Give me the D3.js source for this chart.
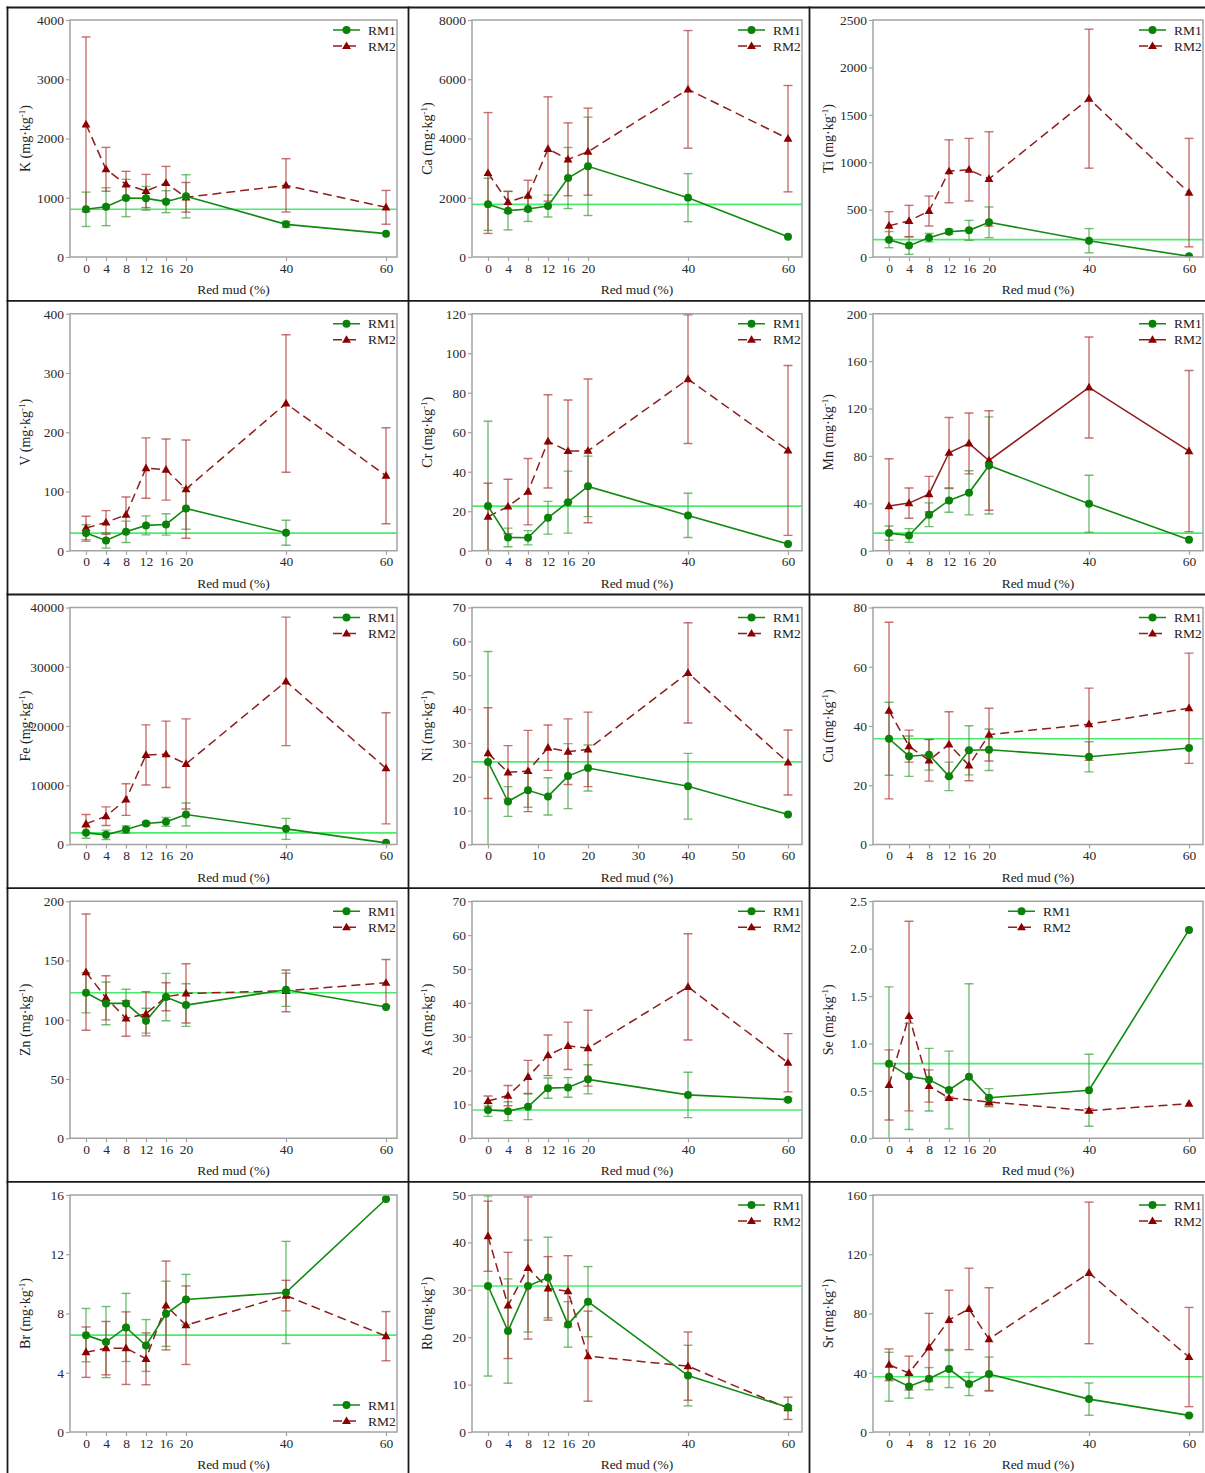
<!DOCTYPE html>
<html>
<head>
<meta charset="utf-8">
<script src="https://cdn.jsdelivr.net/npm/d3@7"></script>
<style>
  body { margin: 0; background: #fff; }
  svg { display: block; }
  text { font-family: "Liberation Serif", "Times New Roman", serif; }
</style>
</head>
<body>
<div id="chart"></div>
<script>
// red mud addition (%)
const redMud = [0, 4, 8, 12, 16, 20, 40, 60];
const redMudTicks = [0, 4, 8, 12, 16, 20, 40, 60];
const niTicks = [0, 10, 20, 30, 40, 50, 60];

const elements = ["K", "Ca", "Ti", "V", "Cr", "Mn", "Fe", "Ni", "Cu", "Zn", "As", "Se", "Br", "Rb", "Sr"];
const yMax  = [4000, 8000, 2500, 400, 120, 200, 40000, 70, 80, 200, 70, 2.5, 16, 50, 160];
const yStep = [1000, 2000, 500, 100, 20, 40, 10000, 10, 20, 50, 10, 0.5, 4, 10, 40];

// mean and sd, mg/kg
const K_RM1 = [805, 849, 996, 990, 934, 1024, 551, 394];
const K_RM1_SD = [290, 320, 315, 200, 185, 365, 50, 0];
const K_RM2 = [2239, 1480, 1226, 1114, 1249, 1007, 1209, 838];
const K_RM2_SD = [1475, 370, 220, 280, 280, 250, 450, 285];

const Ca_RM1 = [1778, 1564, 1620, 1721, 2667, 3060, 2003, 686];
const Ca_RM1_SD = [880, 650, 420, 370, 1030, 1660, 810, 0];
const Ca_RM2 = [2835, 1856, 2070, 3646, 3297, 3555, 5659, 3994];
const Ca_RM2_SD = [2040, 360, 520, 1760, 1230, 1470, 1985, 1795];

const Ti_RM1 = [183, 120, 204, 267, 281, 366, 172, 7];
const Ti_RM1_SD = [85, 92, 45, 25, 105, 162, 128, 0];
const Ti_RM2 = [330, 380, 485, 904, 921, 823, 1670, 679];
const Ti_RM2_SD = [148, 165, 158, 332, 330, 498, 733, 572];

const V_RM1 = [29.8, 17.4, 32, 42.8, 44.4, 71.4, 30.4, null];
const V_RM1_SD = [14, 13, 18, 16, 18, 35, 21, 0];
const V_RM2 = [38.3, 47.8, 60.8, 139.5, 137, 104, 248.6, 126.6];
const V_RM2_SD = [20, 20, 30, 51, 51.5, 83, 116, 81];

const Cr_RM1 = [22.6, 6.75, 6.6, 16.7, 24.6, 32.6, 17.9, 3.4];
const Cr_RM1_SD = [43, 4.7, 3.6, 8.3, 15.7, 15.3, 11.2, 0];
const Cr_RM2 = [17.2, 22.4, 29.9, 55.4, 50.5, 50.6, 86.9, 50.8];
const Cr_RM2_SD = [17, 13.8, 16.8, 23.6, 25.8, 36.4, 32.6, 43];

const Mn_RM1 = [14.9, 12.9, 30.4, 42.5, 48.9, 72, 39.7, 9.3];
const Mn_RM1_SD = [6, 5.8, 10, 10, 18.6, 41, 24, 0];
const Mn_RM2 = [37.7, 40.2, 47.8, 82.7, 90.6, 76.2, 137.8, 84.1];
const Mn_RM2_SD = [40, 12.8, 15, 29.7, 25.7, 42, 42.6, 68];

const Fe_RM1 = [1966, 1629, 2528, 3539, 3820, 5056, 2640, 281];
const Fe_RM1_SD = [900, 790, 620, 250, 750, 1940, 1770, 0];
const Fe_RM2 = [3483, 4775, 7584, 15112, 15225, 13596, 27528, 12865];
const Fe_RM2_SD = [1570, 1570, 2670, 5080, 5600, 7600, 10840, 9380];

const Ni_RM1 = [24.4, 12.7, 16.0, 14.2, 20.2, 22.6, 17.2, 8.85];
const Ni_RM1_SD = [32.6, 4.4, 5, 5.5, 9.6, 6.8, 9.7, 0];
const Ni_RM2 = [27.0, 21.3, 21.7, 28.6, 27.4, 28.1, 50.7, 24.2];
const Ni_RM2_SD = [13.4, 7.9, 12, 6.7, 9.7, 11, 14.8, 9.6];

const Cu_RM1 = [35.7, 29.8, 30.3, 23, 31.8, 32, 29.6, 32.6];
const Cu_RM1_SD = [12.3, 6.8, 5.2, 4.8, 8.3, 7, 5.1, 0];
const Cu_RM2 = [45.2, 33.2, 28.4, 33.8, 26.7, 37.1, 40.6, 46];
const Cu_RM2_SD = [29.8, 5.4, 7, 11, 5.2, 8.9, 12.2, 18.6];

const Zn_RM1 = [122.8, 113.8, 113.8, 99.2, 119.1, 112.4, 125.3, 110.7];
const Zn_RM1_SD = [17, 18, 12, 10.5, 20, 18, 14, 0];
const Zn_RM2 = [140.2, 118.5, 101.1, 105, 119.4, 122.2, 124.4, 131.2];
const Zn_RM2_SD = [49, 18.6, 15, 18.6, 11.8, 25, 17.6, 19.6];

const As_RM1 = [8.36, 8.0, 9.3, 14.8, 15.0, 17.4, 12.8, 11.4];
const As_RM1_SD = [1.9, 2.8, 3.8, 3, 2.9, 4.3, 6.7, 0.5];
const As_RM2 = [11.0, 12.6, 18.1, 24.5, 27.3, 26.6, 44.7, 22.3];
const As_RM2_SD = [1.5, 3, 4.9, 6, 7, 11.2, 15.7, 8.6];

const Se_RM1 = [0.787, 0.653, 0.618, 0.509, 0.65, 0.428, 0.506, 2.198];
const Se_RM1_SD = [0.81, 0.56, 0.33, 0.41, 0.98, 0.095, 0.38, 0];
const Se_RM2 = [0.562, 1.289, 0.551, 0.425, null, 0.383, 0.291, 0.365];
const Se_RM2_SD = [0.37, 1.0, 0.17, 0.01, 0, 0.04, 0.02, 0];

const Br_RM1 = [6.54, 6.07, 7.06, 5.84, 7.98, 8.94, 9.42, 15.73];
const Br_RM1_SD = [1.8, 2.4, 2.3, 1.75, 2.2, 1.7, 3.45, 0];
const Br_RM2 = [5.39, 5.66, 5.66, 4.94, 8.54, 7.21, 9.21, 6.47];
const Br_RM2_SD = [1.7, 1.8, 2.45, 1.75, 3.0, 2.65, 1.03, 1.66];

const Rb_RM1 = [30.8, 21.3, 30.8, 32.6, 22.7, 27.5, 11.9, 5.2];
const Rb_RM1_SD = [19, 11, 9.7, 8.5, 4.8, 7.4, 6.4, 0.3];
const Rb_RM2 = [41.3, 26.7, 34.6, 30.3, 29.7, 16.0, 13.9, 5.0];
const Rb_RM2_SD = [7.4, 11.2, 15, 6.7, 7.5, 9.5, 7.2, 2.35];

const Sr_RM1 = [37.3, 30.8, 36, 42.5, 32.4, 39.1, 22.2, 11.2];
const Sr_RM1_SD = [16.5, 8, 7.5, 12.5, 7.8, 11.5, 10.9, 0.5];
const Sr_RM2 = [45.4, 39.8, 57.1, 75.7, 83.1, 62.7, 107.4, 50.6];
const Sr_RM2_SD = [10.7, 11.4, 23, 20, 27.5, 34.7, 47.8, 33.5];

const series = {
  K: [K_RM1, K_RM1_SD, K_RM2, K_RM2_SD],
  Ca: [Ca_RM1, Ca_RM1_SD, Ca_RM2, Ca_RM2_SD],
  Ti: [Ti_RM1, Ti_RM1_SD, Ti_RM2, Ti_RM2_SD],
  V: [V_RM1, V_RM1_SD, V_RM2, V_RM2_SD],
  Cr: [Cr_RM1, Cr_RM1_SD, Cr_RM2, Cr_RM2_SD],
  Mn: [Mn_RM1, Mn_RM1_SD, Mn_RM2, Mn_RM2_SD],
  Fe: [Fe_RM1, Fe_RM1_SD, Fe_RM2, Fe_RM2_SD],
  Ni: [Ni_RM1, Ni_RM1_SD, Ni_RM2, Ni_RM2_SD],
  Cu: [Cu_RM1, Cu_RM1_SD, Cu_RM2, Cu_RM2_SD],
  Zn: [Zn_RM1, Zn_RM1_SD, Zn_RM2, Zn_RM2_SD],
  As: [As_RM1, As_RM1_SD, As_RM2, As_RM2_SD],
  Se: [Se_RM1, Se_RM1_SD, Se_RM2, Se_RM2_SD],
  Br: [Br_RM1, Br_RM1_SD, Br_RM2, Br_RM2_SD],
  Rb: [Rb_RM1, Rb_RM1_SD, Rb_RM2, Rb_RM2_SD],
  Sr: [Sr_RM1, Sr_RM1_SD, Sr_RM2, Sr_RM2_SD]
};

const W = 1205, H = 1473;
const colLeft = [70, 472, 873];
const colRight = [397, 802, 1203];
const rowTop0 = 20, rowStride = 293.75, plotH = 237;

const c = {
  rm1: "#118a11", rm1Pt: "#0a820a", rm1Err: "rgba(60,160,60,0.7)",
  rm2: "#8e1d1d", rm2Pt: "#8b0000", rm2Err: "rgba(175,60,60,0.72)",
  ref: "rgba(40,235,80,0.85)", frame: "#a3a3a3", tick: "#2a2a2a"
};

const svg = d3.select("#chart").append("svg")
  .attr("width", W).attr("height", H);

const tri = d3.symbol(d3.symbolTriangle, 34);

const drawPanel = (el, i) => {
  const col = i % 3, row = Math.floor(i / 3);
  const left = colLeft[col], right = colRight[col];
  const top = rowTop0 + row * rowStride, bottom = top + plotH;
  const [m1, s1, m2, s2] = series[el];

  const x = d3.scaleLinear().domain([0, 60]).range([left + 16, left + 316]);
  const y = d3.scaleLinear().domain([0, yMax[i]]).range([bottom, top]);

  const g = svg.append("g");
  const clipId = "clip-" + el;
  svg.append("clipPath").attr("id", clipId)
    .append("rect").attr("x", left).attr("y", top)
    .attr("width", right - left).attr("height", plotH);

  // axes
  const fmt = el === "Se" ? d3.format(".1f") : d3.format("d");
  const yAxis = g.append("g").attr("transform", `translate(${left},0)`)
    .call(d3.axisLeft(y).tickValues(d3.range(0, yMax[i] + yStep[i] / 2, yStep[i]))
      .tickFormat(fmt).tickSize(4).tickPadding(2).tickSizeOuter(0));
  const xAxis = g.append("g").attr("transform", `translate(0,${bottom})`)
    .call(d3.axisBottom(x).tickValues(el === "Ni" ? niTicks : redMudTicks)
      .tickSize(4).tickPadding(2).tickSizeOuter(0));
  [yAxis, xAxis].forEach(a => {
    a.select(".domain").remove();
    a.selectAll("line").attr("stroke", c.frame).attr("stroke-width", 1.2);
    a.selectAll("text").attr("fill", c.tick).style("font-size", "13.5px")
      .style("font-family", '"Liberation Serif", serif');
  });

  // axis titles
  const yl = g.append("text")
    .attr("transform", `translate(${left - 45},${(top + bottom) / 2}) rotate(-90)`)
    .attr("text-anchor", "middle").attr("dy", "0.35em")
    .style("font-size", "14px").attr("fill", "#222");
  yl.append("tspan").text(`${el} (mg·kg`);
  yl.append("tspan").text("-1").style("font-size", "9px").attr("dy", -5);
  yl.append("tspan").text(")").attr("dy", 5);

  g.append("text")
    .attr("x", (left + right) / 2).attr("y", bottom + 37)
    .attr("text-anchor", "middle").style("font-size", "13.5px").attr("fill", "#222")
    .text("Red mud (%)");

  const plot = g.append("g").attr("clip-path", `url(#${clipId})`);

  // reference line at RM1 control
  plot.append("line")
    .attr("x1", left).attr("x2", right)
    .attr("y1", y(m1[0])).attr("y2", y(m1[0]))
    .attr("stroke", c.ref).attr("stroke-width", 1.6);

  const pts = (m, s) => redMud.map((d, k) => ({ x: d, v: m[k], sd: s[k] })).filter(d => d.v !== null);
  const p1 = pts(m1, s1), p2 = pts(m2, s2);

  const errBars = (data, color) => {
    const eg = plot.append("g").attr("stroke", color).attr("stroke-width", 1.4).attr("fill", "none");
    data.filter(d => d.sd > 0).forEach(d => {
      const cx = x(d.x), y0 = y(d.v - d.sd), y1 = y(d.v + d.sd);
      eg.append("line").attr("x1", cx).attr("x2", cx).attr("y1", y0).attr("y2", y1);
      eg.append("line").attr("x1", cx - 4.5).attr("x2", cx + 4.5).attr("y1", y0).attr("y2", y0);
      eg.append("line").attr("x1", cx - 4.5).attr("x2", cx + 4.5).attr("y1", y1).attr("y2", y1);
    });
  };
  errBars(p1, c.rm1Err);
  errBars(p2, c.rm2Err);

  const line = d3.line().x(d => x(d.x)).y(d => y(d.v));
  plot.append("path").datum(p2).attr("d", line)
    .attr("fill", "none").attr("stroke", c.rm2).attr("stroke-width", 1.5)
    .attr("stroke-dasharray", el === "Mn" ? null : "9,5");
  plot.append("path").datum(p1).attr("d", line)
    .attr("fill", "none").attr("stroke", c.rm1).attr("stroke-width", 1.6);

  plot.selectAll(".t").data(p2).enter().append("path")
    .attr("d", tri).attr("fill", c.rm2Pt)
    .attr("transform", d => `translate(${x(d.x)},${y(d.v) + 0.5})`);
  plot.selectAll(".c").data(p1).enter().append("circle")
    .attr("cx", d => x(d.x)).attr("cy", d => y(d.v)).attr("r", 4)
    .attr("fill", c.rm1Pt);

  // frame
  g.append("rect").attr("x", left).attr("y", top)
    .attr("width", right - left).attr("height", plotH)
    .attr("fill", "none").attr("stroke", c.frame).attr("stroke-width", 1.5);

  // legend
  let lx = right - 64, ly = top + 10;
  if (el === "Se") lx = right - 195;
  if (el === "Br") ly = bottom - 27;
  const lg = g.append("g").attr("transform", `translate(${lx},${ly})`);
  [["RM1", c.rm1, null], ["RM2", c.rm2, el === "Mn" ? null : "9,5"]].forEach((s, k) => {
    const r = lg.append("g").attr("transform", `translate(0,${k * 16})`);
    r.append("line").attr("x1", 0).attr("x2", 27)
      .attr("stroke", s[1]).attr("stroke-width", 1.5).attr("stroke-dasharray", s[2]);
    if (k === 0) r.append("circle").attr("cx", 13.5).attr("r", 4).attr("fill", c.rm1Pt);
    else r.append("path").attr("d", tri).attr("transform", "translate(13.5,0.5)").attr("fill", c.rm2Pt);
    r.append("text").attr("x", 35).attr("dy", "0.35em")
      .style("font-size", "13.5px").attr("fill", "#222").text(s[0]);
  });
};

elements.forEach(drawPanel);

// panel separators
const sep = svg.append("g").attr("stroke", "#1a1a1a").attr("stroke-width", 1.8);
[7.5, 408.5, 809.5].forEach(xv => sep.append("line")
  .attr("x1", xv).attr("x2", xv).attr("y1", 6.5).attr("y2", H));
[7.5, 300.8, 594.5, 888.2, 1181.8].forEach(yv => sep.append("line")
  .attr("x1", 6.5).attr("x2", W).attr("y1", yv).attr("y2", yv));
</script>
</body>
</html>
